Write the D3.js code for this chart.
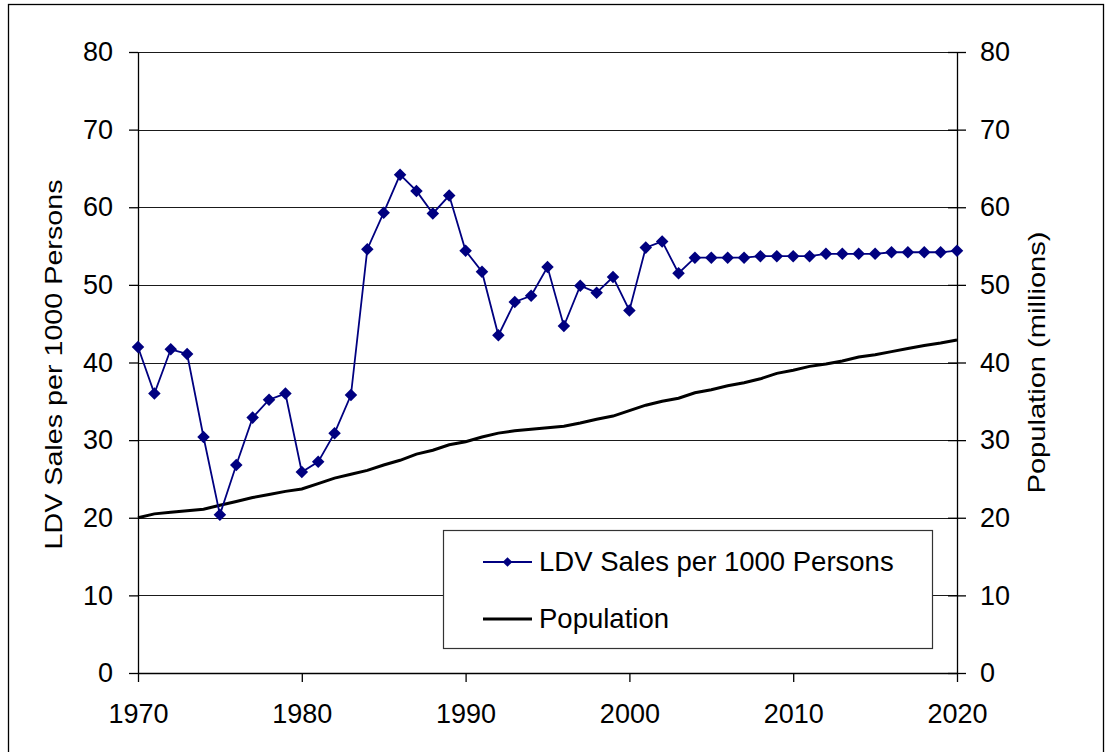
<!DOCTYPE html>
<html>
<head>
<meta charset="utf-8">
<script src="https://cdn.jsdelivr.net/npm/d3@7"></script>
<style>
  body { margin: 0; background: #fff; }
  text { font-family: "Liberation Sans", Arial, sans-serif; fill: #000; }
</style>
</head>
<body>
<script>
const width = 1106;
const height = 752;

// data
const years = d3.range(1970, 2021);
const ldvSales = [
  42.0, 36.0, 41.7, 41.1, 30.4, 20.4, 26.8, 32.9, 35.2, 36.0,
  25.9, 27.2, 30.9, 35.8, 54.6, 59.3, 64.2, 62.1, 59.2, 61.5,
  54.4, 51.7, 43.5, 47.8, 48.6, 52.3, 44.7, 49.9, 49.0, 51.0,
  46.7, 54.8, 55.6, 51.5, 53.5, 53.5, 53.5, 53.5, 53.7, 53.7,
  53.7, 53.7, 54.0, 54.0, 54.0, 54.0, 54.2, 54.2, 54.2, 54.2,
  54.4
];
const population = [
  20.0, 20.5, 20.7, 20.9, 21.1, 21.6, 22.1, 22.6, 23.0, 23.4,
  23.7, 24.4, 25.1, 25.6, 26.1, 26.8, 27.4, 28.2, 28.7, 29.4,
  29.8, 30.4, 30.9, 31.2, 31.4, 31.6, 31.8, 32.2, 32.7, 33.1,
  33.8, 34.5, 35.0, 35.4, 36.1, 36.5, 37.0, 37.4, 37.9, 38.6,
  39.0, 39.5, 39.8, 40.2, 40.7, 41.0, 41.4, 41.8, 42.2, 42.5,
  42.9
];
const yTicks = [0, 10, 20, 30, 40, 50, 60, 70, 80];
const xTicks = [1970, 1980, 1990, 2000, 2010, 2020];
const seriesNames = ["LDV Sales per 1000 Persons", "Population"];
const leftTitle = "LDV Sales per 1000 Persons";
const rightTitle = "Population (millions)";

const plotLeft = 138, plotRight = 957, plotTop = 52, plotBottom = 673;

const svg = d3.select("body").append("svg")
  .attr("width", width)
  .attr("height", height);

// outer frame
svg.append("rect")
  .attr("x", 8.5).attr("y", 4.5)
  .attr("width", 1095).attr("height", 800)
  .attr("fill", "#fff")
  .attr("stroke", "#000")
  .attr("stroke-width", 1.3);

const xScale = d3.scaleLinear().domain([1970, 2020]).range([plotLeft, plotRight]);
const yScale = d3.scaleLinear().domain([0, 80]).range([plotBottom, plotTop]);
const y2Scale = d3.scaleLinear().domain([0, 80]).range([plotBottom, plotTop]);

// gridlines
svg.append("g")
  .selectAll("line")
  .data(yTicks.filter(d => d > 0))
  .enter()
  .append("line")
  .attr("x1", plotLeft).attr("x2", plotRight)
  .attr("y1", d => Math.round(yScale(d)) + 0.5)
  .attr("y2", d => Math.round(yScale(d)) + 0.5)
  .attr("stroke", "#1a1a1a")
  .attr("stroke-width", 1);

// axes
const yAxis = d3.axisLeft(yScale)
  .tickValues(yTicks)
  .tickSize(9)
  .tickSizeOuter(0)
  .tickPadding(16);

const gy = svg.append("g")
  .attr("transform", "translate(" + plotLeft + ",0)")
  .call(yAxis);

const y2Axis = d3.axisRight(y2Scale)
  .tickValues(yTicks)
  .tickSize(9)
  .tickSizeOuter(0)
  .tickPadding(14);

const gy2 = svg.append("g")
  .attr("transform", "translate(" + plotRight + ",0)")
  .call(y2Axis);
gy2.selectAll(".tick line").attr("x1", -9);

const xAxis = d3.axisBottom(xScale)
  .tickValues(xTicks)
  .tickFormat(d3.format("d"))
  .tickSize(9)
  .tickSizeOuter(0)
  .tickPadding(22);

const gx = svg.append("g")
  .attr("transform", "translate(0," + plotBottom + ")")
  .call(xAxis);

[gy, gy2, gx].forEach(g => {
  g.selectAll("text")
    .attr("font-size", 27)
    .attr("font-family", "Liberation Sans, Arial, sans-serif")
    .attr("fill", "#000");
  g.selectAll("line, path")
    .attr("stroke", "#000")
    .attr("stroke-width", 1.3);
});

// axis titles
svg.append("text")
  .attr("transform", "translate(62," + ((plotTop + plotBottom) / 2 + 2) + ") rotate(-90)")
  .attr("text-anchor", "middle")
  .attr("font-size", 24)
  .attr("textLength", 370)
  .attr("lengthAdjust", "spacingAndGlyphs")
  .text(leftTitle);

svg.append("text")
  .attr("transform", "translate(1045," + ((plotTop + plotBottom) / 2) + ") rotate(-90)")
  .attr("text-anchor", "middle")
  .attr("font-size", 24)
  .attr("textLength", 262)
  .attr("lengthAdjust", "spacingAndGlyphs")
  .text(rightTitle);

// legend box (behind series, over gridlines)
const legend = svg.append("g");
legend.append("rect")
  .attr("x", 443.5).attr("y", 530.5)
  .attr("width", 489).attr("height", 118)
  .attr("fill", "#fff")
  .attr("stroke", "#333")
  .attr("stroke-width", 1.2);

// population line
const popLine = d3.line()
  .x((d, i) => xScale(years[i]))
  .y(d => y2Scale(d));

svg.append("path")
  .datum(population)
  .attr("d", popLine)
  .attr("fill", "none")
  .attr("stroke", "#000")
  .attr("stroke-width", 3);

// LDV sales line with diamonds
const ldvLine = d3.line()
  .x((d, i) => xScale(years[i]))
  .y(d => yScale(d));

svg.append("path")
  .datum(ldvSales)
  .attr("d", ldvLine)
  .attr("fill", "none")
  .attr("stroke", "#000080")
  .attr("stroke-width", 1.8);

const diamond = d3.symbol().type(d3.symbolDiamond2).size(100);

svg.append("g")
  .selectAll("path")
  .data(ldvSales)
  .enter()
  .append("path")
  .attr("d", diamond)
  .attr("transform", (d, i) => "translate(" + xScale(years[i]) + "," + yScale(d) + ")")
  .attr("fill", "#000080");

// legend entries
legend.append("line")
  .attr("x1", 483).attr("x2", 532)
  .attr("y1", 562).attr("y2", 562)
  .attr("stroke", "#000080").attr("stroke-width", 1.8);
legend.append("path")
  .attr("d", d3.symbol().type(d3.symbolDiamond2).size(60))
  .attr("transform", "translate(507.5,562)")
  .attr("fill", "#000080");
legend.append("text")
  .attr("x", 539).attr("y", 571)
  .attr("font-size", 27.5)
  .text(seriesNames[0]);

legend.append("line")
  .attr("x1", 483).attr("x2", 532)
  .attr("y1", 619).attr("y2", 619)
  .attr("stroke", "#000").attr("stroke-width", 3);
legend.append("text")
  .attr("x", 539).attr("y", 628)
  .attr("font-size", 27.5)
  .text(seriesNames[1]);
</script>
</body>
</html>
